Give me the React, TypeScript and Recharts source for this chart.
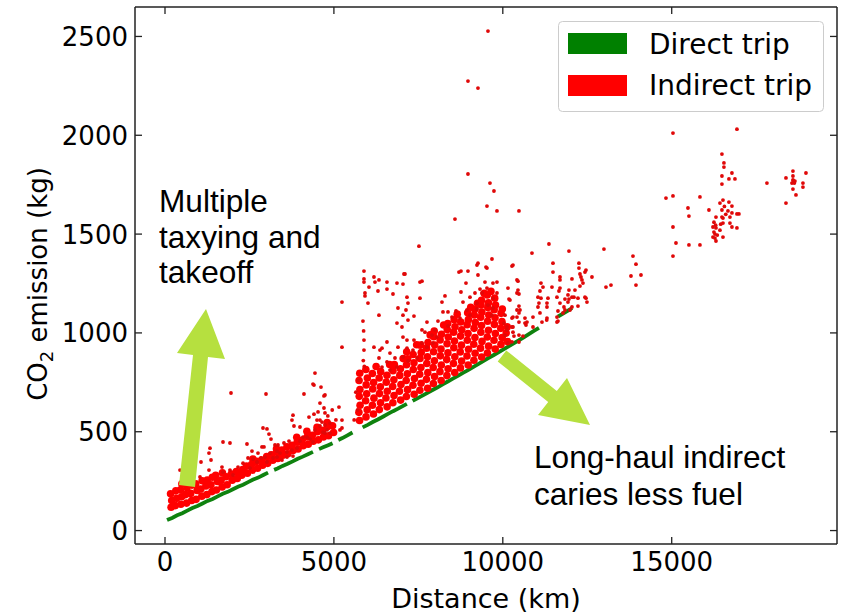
import React from "react";
import { ScatterChart, Scatter, XAxis, YAxis, Legend } from "recharts";

// [distance km, CO2 kg]
const directTrips: [number, number][] = [
  [60, 53], [210, 64], [360, 77], [510, 88], [660, 101], [810, 114], [960, 124], [1110, 137],
  [1260, 150], [1410, 160], [1560, 173], [1710, 186], [1860, 196], [2010, 209], [2160, 222],
  [2310, 232], [2460, 245], [2610, 258], [2760, 268], [2910, 281], [3050, 293],
  [3230, 307], [3330, 314], [3480, 327], [3630, 338], [3780, 350], [3930, 363], [4080, 374],
  [4230, 386], [4380, 398],
  [4560, 412], [4680, 421], [4830, 432], [4960, 442],
  [5130, 458], [5250, 468], [5400, 482], [5550, 496],
  [5850, 522], [6000, 535], [6150, 549], [6300, 562], [6450, 576], [6600, 590], [6750, 604],
  [6900, 617], [7050, 631], [7160, 641],
  [7330, 656], [7470, 669], [7620, 683], [7770, 697], [7920, 711], [8070, 725], [8220, 740],
  [8370, 754], [8520, 769], [8670, 783], [8820, 798], [8970, 812], [9120, 827], [9270, 842],
  [9420, 857], [9570, 872], [9720, 887], [9870, 902], [10020, 917], [10170, 932], [10320, 947],
  [10470, 962], [10620, 978], [10770, 994], [10920, 1010], [11070, 1025],
  [11630, 1082], [11780, 1098], [11930, 1113], [12050, 1126],
];

// the heavily overplotted band of indirect trips
const indirectDense: [number, number][] = [
  [180, 118], [200, 152], [165, 186], [300, 126], [345, 163], [320, 201],
  [470, 133], [490, 171], [460, 206], [500, 236], [640, 139], [610, 182], [650, 216], [620, 252],
  [790, 152], [760, 188], [800, 230], [920, 158], [950, 203], [910, 236],
  [1090, 174], [1060, 210], [1100, 252], [1240, 182], [1210, 226], [1250, 256],
  [1390, 197], [1360, 232], [1400, 270], [1520, 205], [1550, 248], [1500, 280],
  [1690, 221], [1660, 255], [1700, 292], [1840, 232], [1810, 272], [1990, 255], [1960, 286],
  [2140, 264], [2110, 299], [2270, 280], [2300, 309], [2440, 290], [2410, 326],
  [2590, 306], [2560, 334], [2600, 362], [2740, 315], [2710, 350], [2890, 331], [2860, 357],
  [3040, 340], [3010, 374], [3190, 356], [3160, 383], [3340, 365], [3310, 399], [3300, 414],
  [3490, 381], [3460, 407], [3640, 389], [3610, 424], [3790, 405], [3760, 432],
  [3940, 413], [3910, 447], [3900, 472], [4090, 429], [4060, 457], [4240, 437], [4210, 474],
  [4200, 502], [4390, 452], [4360, 482], [4540, 459], [4510, 500], [4500, 522],
  [4690, 473], [4660, 507], [4840, 480], [4810, 525], [4800, 546], [4990, 496], [4960, 530],
  [5760, 557], [5740, 598], [5775, 634], [5750, 679], [5770, 714], [5745, 759], [5765, 796],
  [5950, 575], [5985, 611], [5940, 657], [5970, 692], [5955, 737], [5990, 772], [5945, 815],
  [6170, 590], [6140, 634], [6185, 670], [6150, 716], [6175, 749], [6140, 795], [6250, 830],
  [6345, 612], [6380, 647], [6350, 693], [6375, 727], [6340, 772], [6385, 804],
  [6575, 626], [6540, 671], [6580, 705], [6550, 751], [6570, 786], [6650, 840],
  [6745, 647], [6780, 683], [6740, 729], [6775, 763], [6750, 809], [6790, 840],
  [6975, 660], [6940, 705], [6985, 739], [6950, 785], [6970, 819], [7050, 870],
  [7145, 678], [7180, 713], [7140, 759], [7175, 793], [7150, 839], [7185, 869], [7155, 905],
  [7375, 690], [7340, 735], [7385, 769], [7350, 815], [7370, 849], [7345, 891], [7450, 940],
  [7545, 710], [7580, 745], [7540, 791], [7575, 825], [7550, 871], [7585, 901], [7560, 938],
  [7775, 720], [7740, 765], [7780, 799], [7750, 845], [7770, 879], [7745, 923], [7785, 951],
  [7850, 990], [7945, 744], [7980, 779], [7940, 825], [7975, 859], [7950, 905], [7985, 939],
  [7955, 981], [7970, 1010], [8175, 759], [8140, 804], [8180, 838], [8150, 884], [8170, 918],
  [8145, 964], [8185, 993], [8250, 1040], [8345, 784], [8380, 819], [8340, 865], [8375, 899],
  [8350, 945], [8385, 979], [8355, 1017], [8370, 1048], [8575, 800], [8540, 845], [8580, 879],
  [8550, 925], [8570, 959], [8545, 1003], [8585, 1031], [8560, 1066], [8650, 1095],
  [8745, 823], [8780, 858], [8740, 904], [8775, 938], [8750, 984], [8785, 1016], [8755, 1055],
  [8975, 838], [8940, 883], [8985, 917], [8950, 963], [8970, 997], [8945, 1041], [8980, 1067],
  [8960, 1102], [9050, 1130], [9145, 862], [9180, 897], [9140, 943], [9175, 977], [9150, 1023],
  [9185, 1053], [9155, 1091], [9170, 1120], [9250, 1150], [9375, 878], [9340, 923], [9385, 957],
  [9350, 1003], [9370, 1037], [9345, 1079], [9380, 1105], [9355, 1141], [9370, 1165],
  [9450, 1200], [9545, 898], [9580, 933], [9540, 979], [9575, 1013], [9550, 1059], [9585, 1091],
  [9555, 1129], [9575, 1153], [9540, 1192], [9650, 1210], [9775, 918], [9740, 963], [9780, 997],
  [9750, 1043], [9770, 1077], [9745, 1117], [9785, 1141], [9760, 1176], [9945, 942],
  [9980, 977], [9940, 1023], [9975, 1057], [9950, 1099], [9985, 1121], [10135, 956],
  [10100, 999], [10130, 1031],
];

// individual indirect trips that stand apart from the band
const indirectTrips: [number, number][] = [
  [444, 306], [1036, 271], [1066, 347], [1302, 306], [1362, 357], [1302, 392], [1332, 417],
  [1687, 321], [1717, 296], [1924, 306], [2013, 281], [2161, 321], [2309, 341], [2457, 367],
  [2516, 316], [2605, 362], [2723, 347], [2753, 392], [2842, 367], [2960, 372], [3019, 347],
  [3108, 392], [3197, 367], [3315, 372], [3404, 392], [3463, 357], [3611, 397], [3611, 372],
  [3759, 407], [3789, 377], [3907, 417], [1717, 448], [1924, 443], [2427, 438], [2575, 402],
  [2871, 423], [2930, 423], [3256, 433], [3345, 433], [3522, 443], [3315, 402], [3670, 453],
  [3996, 453], [4085, 473], [4203, 473], [4292, 463], [4381, 448], [2901, 519], [3019, 514],
  [3078, 488], [3138, 463], [1954, 696], [2990, 691], [4114, 691], [4410, 736], [4618, 726],
  [4706, 681], [4588, 645], [4706, 620], [4410, 589], [4262, 574], [3789, 584], [3759, 559],
  [3818, 529], [3996, 524], [4499, 559], [4647, 549], [4588, 529], [4736, 534], [4884, 544],
  [4440, 509], [4677, 498], [4795, 509], [4884, 493], [4440, 797], [4381, 741], [5150, 625],
  [5239, 559], [5180, 509], [4736, 686], [4736, 595], [4588, 559], [5239, 519], [4736, 493],
  [4530, 600], [4820, 580], [4950, 610], [5060, 560],
  [5239, 1156], [5239, 928], [5890, 1313], [5890, 1273], [5890, 1257], [6186, 1283], [6216, 1257],
  [6334, 1268], [6571, 1257], [6867, 1252], [7104, 1298], [7045, 1247], [5920, 1202], [5920, 1187],
  [6038, 1232], [6305, 1212], [6571, 1222], [6749, 1197], [7163, 1181], [7548, 1257], [7548, 1176],
  [7193, 1151], [6009, 1151], [6334, 1090], [6897, 1126], [7134, 1116], [7045, 1090], [7193, 1065],
  [6867, 1050], [7015, 1030], [7370, 1085], [7755, 1055], [7607, 1015], [5890, 964], [5890, 913],
  [6186, 928], [6364, 913], [6423, 923], [6571, 954], [6334, 873], [6660, 898], [6571, 853],
  [6423, 827], [6660, 812], [6867, 827], [7045, 878], [7163, 923], [7341, 913], [7163, 964],
  [7370, 964], [7045, 979], [6897, 928], [6808, 873], [7193, 858], [7459, 873], [7607, 949],
  [7755, 928], [7933, 949], [7903, 989], [8051, 979], [7992, 1015], [7696, 1004], [8081, 1060],
  [8229, 1106], [8199, 1156], [8288, 1187], [8377, 1106], [8495, 1080], [8377, 1035], [8614, 1111],
  [8732, 1075], [8702, 1308], [8969, 1313], [8910, 1252], [8762, 1207], [8821, 1156], [9028, 1181],
  [9235, 1343], [9679, 1374], [9531, 1328], [9265, 1293], [9472, 1257], [9709, 1252], [9827, 1257],
  [9324, 1222], [9531, 1227], [9176, 1202], [9383, 1202], [9709, 1176], [9827, 1202], [9561, 1141],
  [9709, 1126], [9679, 1090], [9235, 1151], [9235, 1121], [8939, 1116], [9028, 1090], [7518, 1439],
  [7074, 1298], [7607, 1262], [8762, 1313], [9265, 1353], [9502, 1333], [5860, 1060], [5880, 1010],
  [5870, 860], [5900, 830], [5700, 610], [5650, 700], [5720, 760], [5600, 560],
  [10271, 1338], [10419, 1268], [10153, 1227], [10182, 1171], [10419, 1116], [10064, 1090],
  [10271, 1075], [10123, 1030], [10301, 1030], [10064, 989], [10301, 1343], [10419, 1202],
  [10212, 1166], [10449, 1262], [10449, 1217], [10478, 1197], [11130, 1176], [11070, 1151],
  [11307, 1151], [11692, 1151], [11840, 1171], [11958, 1171], [12047, 1181], [12106, 1181],
  [12225, 1176], [12462, 1176], [11958, 1217], [11929, 1156], [12225, 1136], [12047, 1131],
  [11840, 1116], [11781, 1101], [11633, 1111], [11633, 1060], [11307, 1131], [11041, 1131],
  [11100, 1101], [10893, 1080], [10656, 1075], [10715, 1055], [10478, 1136], [10478, 1101],
  [10478, 1055], [10301, 1080], [10271, 1030], [10034, 1050], [10123, 1014], [10301, 1004],
  [10330, 984], [10478, 989], [10656, 1050], [10893, 1030], [11300, 1065], [11160, 1055],
  [10597, 984], [10271, 955], [10478, 954], [10153, 950],
  [11485, 1353], [11485, 1308], [11692, 1283], [11692, 1268], [12254, 1353], [12254, 1328],
  [12462, 1318], [12284, 1298], [12314, 1283], [12343, 1268], [12373, 1252], [12284, 1237],
  [12639, 1283], [12047, 1273], [11692, 1227], [11662, 1212], [11455, 1232], [11130, 1252],
  [11189, 1232], [11100, 1212], [11041, 1181], [11337, 1176], [11603, 1181], [11929, 1192],
  [12136, 1217], [12432, 1181], [12491, 1156], [11810, 1131], [11988, 1116], [11603, 1080],
  [11603, 1055], [11307, 1075], [10686, 1040], [10508, 1116], [10419, 1080], [12432, 1308],
  [9561, 2527], [8969, 2274], [9265, 2239], [8969, 1804], [9620, 1758], [9738, 1718], [8584, 1576],
  [9531, 1642], [9827, 1617], [10478, 1617], [11366, 1450], [10863, 1404], [11958, 1414],
  [12994, 1424], [13853, 1389], [13942, 1348], [13794, 1288], [14090, 1293], [13942, 1242],
  [13054, 1232], [13202, 1242],
  [15037, 2011], [16931, 2031], [16487, 1905], [16546, 1860], [16546, 1839], [16783, 1809],
  [16487, 1794], [16694, 1779], [16872, 1779], [16487, 1753], [17819, 1758], [18589, 1819],
  [18589, 1794], [18382, 1784], [18974, 1809], [18589, 1774], [18618, 1763], [18559, 1758],
  [18648, 1768], [18600, 1770], [18630, 1758], [18885, 1758], [18885, 1738], [18589, 1728],
  [18678, 1698], [18382, 1657], [14830, 1682], [15037, 1693], [15836, 1688], [15481, 1632],
  [15510, 1591], [16102, 1622], [16428, 1657], [16517, 1672], [16694, 1662], [16783, 1642],
  [16487, 1622], [16665, 1617], [16783, 1607], [16931, 1602], [16990, 1602], [16310, 1586],
  [16487, 1586], [16517, 1581], [16724, 1586], [16517, 1556], [16724, 1556], [16783, 1536],
  [16931, 1531], [16221, 1536], [16310, 1531], [16428, 1520], [16221, 1485], [16280, 1480],
  [16310, 1465], [16517, 1485], [15037, 1536], [15126, 1455], [15510, 1445], [15836, 1445],
  [15037, 1389], [16250, 1510], [16280, 1500], [16300, 1545], [16250, 1560], [16350, 1495],
  [16450, 1550], [16600, 1600], [16560, 1640],
];

const xTicks = [0, 5000, 10000, 15000];
const yTicks = [0, 500, 1000, 1500, 2000, 2500];
const xDomain = [-888, 19893];
const yDomain = [-68, 2649];

const W = 842;
const H = 613;
// plot box edges in pixels
const BOX = { left: 135, right: 837, top: 7, bottom: 544 };
const TICK_LEN = 7;
const AXIS_FONT = "'DejaVu Sans', sans-serif";
const NOTE_FONT = "'Liberation Sans', Arial, sans-serif";
const ARROW = "#b6e03f";
const GREEN = "#0f820f";

const toPts = (a: [number, number][]) => a.map(([x, y]) => ({ x, y }));

// direct trips are drawn as short runs, broken wherever the distances jump
const directRuns = directTrips.reduce<[number, number][][]>((runs, p, i) => {
  if (i === 0 || p[0] - directTrips[i - 1][0] > 160) runs.push([]);
  runs[runs.length - 1].push(p);
  return runs;
}, []);

const dot = (r: number, fill: string) => (p: any) =>
  <circle cx={p.cx} cy={p.cy} r={r} fill={fill} />;
const noDot = () => <g />;

const BottomTick = ({ x, payload }: any) => (
  <g>
    <line x1={x} x2={x} y1={BOX.bottom} y2={BOX.bottom - TICK_LEN} stroke="#222" strokeWidth={1.3} />
    <text x={x} y={571} textAnchor="middle" fontSize={26} fontFamily={AXIS_FONT} fill="#000">
      {payload.value}
    </text>
  </g>
);

const TopTick = ({ x }: any) => (
  <line x1={x} x2={x} y1={BOX.top} y2={BOX.top + TICK_LEN} stroke="#222" strokeWidth={1.3} />
);

const LeftTick = ({ y, payload }: any) => (
  <g>
    <line x1={BOX.left} x2={BOX.left + TICK_LEN} y1={y} y2={y} stroke="#222" strokeWidth={1.3} />
    <text x={128} y={y + 9.5} textAnchor="end" fontSize={26} fontFamily={AXIS_FONT} fill="#000">
      {payload.value}
    </text>
  </g>
);

const RightTick = ({ y }: any) => (
  <line x1={BOX.right} x2={BOX.right - TICK_LEN} y1={y} y2={y} stroke="#222" strokeWidth={1.3} />
);

const YTitle = () => (
  <text
    transform="translate(47,284) rotate(-90)"
    textAnchor="middle"
    fontSize={26}
    fontFamily={AXIS_FONT}
    fill="#000"
  >
    CO<tspan dy={6} fontSize={18}>2</tspan>
    <tspan dy={-6}> emission (kg)</tspan>
  </text>
);

const LegendBox = ({ payload }: any) => {
  const items = (payload || []).filter((p: any) => p.type !== "none");
  return (
    <svg width={267} height={92} style={{ display: "block" }}>
      <rect x={0.5} y={0.5} width={265} height={90} rx={4} fill="#fff" fillOpacity={0.8} stroke="#cccccc" />
      {items.map((it: any, i: number) => (
        <g key={it.value}>
          <rect x={10} y={12 + i * 42} width={59} height={21} fill={it.color} />
          <text x={91} y={33 + i * 41} fontSize={28} fontFamily={AXIS_FONT} fill="#000">
            {it.value}
          </text>
        </g>
      ))}
    </svg>
  );
};

export default function App() {
  return (
    <div style={{ position: "absolute", left: 0, top: 0, width: W, height: H, background: "#fff" }}>
      <ScatterChart width={W} height={H} margin={{ top: 0, right: 0, bottom: 0, left: 0 }}>
        <XAxis
          xAxisId="x"
          type="number"
          dataKey="x"
          domain={xDomain}
          ticks={xTicks}
          interval={0}
          allowDataOverflow
          height={H - BOX.bottom}
          axisLine={{ stroke: "#222", strokeWidth: 1.5 }}
          tickLine={false}
          tick={<BottomTick />}
          label={{
            value: "Distance (km)",
            position: "insideBottom",
            offset: 5,
            style: { fontSize: 27, fontFamily: AXIS_FONT, fill: "#000" },
          }}
        />
        <XAxis
          xAxisId="top"
          orientation="top"
          type="number"
          dataKey="x"
          domain={xDomain}
          ticks={xTicks}
          interval={0}
          allowDataOverflow
          height={BOX.top}
          axisLine={{ stroke: "#222", strokeWidth: 1.5 }}
          tickLine={false}
          tick={<TopTick />}
        />
        <YAxis
          yAxisId="y"
          type="number"
          dataKey="y"
          domain={yDomain}
          ticks={yTicks}
          interval={0}
          allowDataOverflow
          width={BOX.left}
          axisLine={{ stroke: "#222", strokeWidth: 1.5 }}
          tickLine={false}
          tick={<LeftTick />}
          label={<YTitle />}
        />
        <YAxis
          yAxisId="right"
          orientation="right"
          type="number"
          dataKey="y"
          domain={yDomain}
          ticks={yTicks}
          interval={0}
          allowDataOverflow
          width={W - BOX.right}
          axisLine={{ stroke: "#222", strokeWidth: 1.5 }}
          tickLine={false}
          tick={<RightTick />}
        />
        <Legend
          layout="vertical"
          align="center"
          verticalAlign="middle"
          content={<LegendBox />}
          wrapperStyle={{ left: 558, top: 21, width: 267, height: 92 }}
        />
        {directRuns.map((run, i) => (
          <Scatter
            key={`direct-${i}`}
            name={i === 0 ? "Direct trip" : `Direct trip ${i}`}
            legendType={i === 0 ? "rect" : "none"}
            data={toPts(run)}
            xAxisId="top"
            yAxisId="right"
            fill="#008000"
            line={{ stroke: GREEN, strokeWidth: 3.8 }}
            shape={noDot}
            isAnimationActive={false}
          />
        ))}
        <Scatter
          name="Indirect trip"
          data={toPts(indirectDense)}
          xAxisId="x"
          yAxisId="y"
          fill="#ff0000"
          shape={dot(3.8, "#ff0000")}
          isAnimationActive={false}
        />
        <Scatter
          name="Indirect trip (scattered)"
          legendType="none"
          data={toPts(indirectTrips)}
          xAxisId="x"
          yAxisId="y"
          fill="#ff0000"
          shape={dot(1.9, "#e00808")}
          isAnimationActive={false}
        />
      </ScatterChart>
      <svg
        width={W}
        height={H}
        style={{ position: "absolute", left: 0, top: 0, pointerEvents: "none" }}
      >
        {/* arrows */}
        <polygon
          points="179,485 195,487 208,357 225,359 206,309 177,353 193,355"
          fill={ARROW}
        />
        <polygon
          points="497.7,361.5 506.3,350.5 556.8,391 567,378 590,425 538,415 548.2,402"
          fill={ARROW}
        />
        {/* notes */}
        <g fontFamily={NOTE_FONT} fontSize={31.6} fill="#000">
          <text x={159} y={212}>Multiple</text>
          <text x={159} y={248}>taxying and</text>
          <text x={159} y={283}>takeoff</text>
          <text x={534} y={468}>Long-haul indirect</text>
          <text x={534} y={505}>caries less fuel</text>
        </g>
      </svg>
    </div>
  );
}
